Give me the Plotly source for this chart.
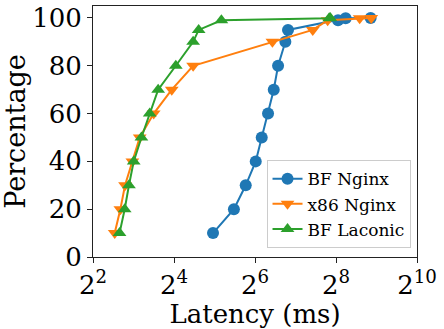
import plotly.graph_objects as go

pct = [10, 20, 30, 40, 50, 60, 70, 80, 90, 95, 99, 99.9, 100]

bf_nginx = [31.2, 44.6, 54.6, 64.8, 71.8, 80.0, 88.2, 95.0, 107.6, 112.6, 265, 302, 463]
x86_nginx = [5.8, 6.39, 6.92, 7.85, 8.9, 11.3, 15.4, 22.2, 86.2, 172, 222, 384, 468]
bf_laconic = [6.3, 6.88, 7.4, 8.03, 9.16, 10.56, 12.2, 16.5, 22.2, 24.4, 36, 228, 232]

series = [
    ("BF Nginx", bf_nginx, "#1f77b4", "circle"),
    ("x86 Nginx", x86_nginx, "#ff7f0e", "triangle-down"),
    ("BF Laconic", bf_laconic, "#2ca02c", "triangle-up"),
]

fig = go.Figure()
for name, xs, color, sym in series:
    fig.add_trace(go.Scatter(x=xs, y=pct, name=name, mode="lines+markers",
                             line=dict(color=color, width=2),
                             marker=dict(color=color, symbol=sym, size=12)))

tickvals = [4, 16, 64, 256, 1024]
ticktext = ["2<sup>%d</sup>" % e for e in [2, 4, 6, 8, 10]]

fig.update_layout(
    width=444, height=329,
    margin=dict(l=93, r=27, t=6, b=72),
    paper_bgcolor="white", plot_bgcolor="white",
    font=dict(family="DejaVu Serif", size=26, color="black"),
    xaxis=dict(type="log", range=[0.60206, 3.0103], tickvals=tickvals, ticktext=ticktext,
               showgrid=False, zeroline=False, showline=True, linecolor="#222", mirror=True,
               ticks="outside", ticklen=5, tickcolor="#222", automargin=False,
               title=dict(text="Latency (ms)", standoff=0, font=dict(size=26))),
    yaxis=dict(range=[0, 105], tickvals=[0, 20, 40, 60, 80, 100],
               showgrid=False, zeroline=False, showline=True, linecolor="#222", mirror=True,
               ticks="outside", ticklen=5, tickcolor="#222", automargin=False,
               title=dict(text="Percentage", standoff=4, font=dict(size=27))),
    legend=dict(x=0.98, y=0.035, xanchor="right", yanchor="bottom",
                bgcolor="rgba(255,255,255,0.8)", bordercolor="#ccc", borderwidth=1,
                font=dict(size=17, family="DejaVu Serif")),
)

# page body has a default margin; drop it so the figure sits at the window corner
fig.write_html("out.html", config={"displayModeBar": False},
               post_script="document.body.style.margin='0';")
